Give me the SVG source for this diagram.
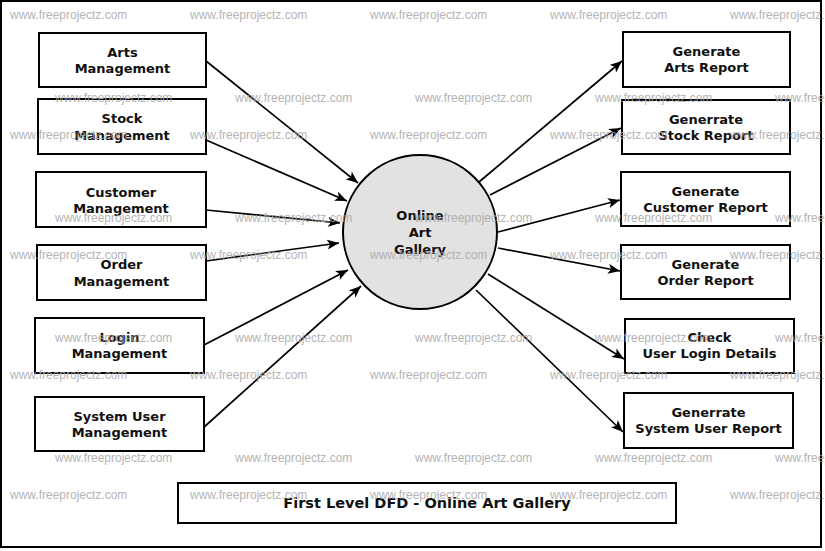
<svg xmlns="http://www.w3.org/2000/svg" width="825" height="551" viewBox="0 0 825 551">
<style>
.box{fill:#fff;stroke:#000;stroke-width:2}
.lbl{font-family:"DejaVu Sans",sans-serif;font-weight:bold;font-size:13px;fill:#111;text-anchor:middle}
.ttl{font-size:14.5px}
.con{stroke:#000;stroke-width:1.7;fill:none;marker-end:url(#arr)}
.wm{font-family:"Liberation Sans",Arial,sans-serif;font-size:12px;fill:#a8a8a8;opacity:0.85}
</style>
<defs>
<marker id="arr" viewBox="0 0 12 10" refX="12" refY="5" markerWidth="12" markerHeight="10" markerUnits="userSpaceOnUse" orient="auto">
<path d="M0,0 L12,5 L0,10 L3,5 Z" fill="#000"/>
</marker>
</defs>
<rect x="0" y="0" width="825" height="551" fill="#fff"/>
<rect x="1" y="1" width="820" height="546" fill="none" stroke="#000" stroke-width="2"/>

<g id="connectors">
<line class="con" x1="206" y1="61" x2="358" y2="183"/>
<line class="con" x1="206" y1="140" x2="347" y2="201"/>
<line class="con" x1="206" y1="210" x2="340" y2="223"/>
<line class="con" x1="206" y1="261" x2="339" y2="243"/>
<line class="con" x1="204" y1="345" x2="348" y2="270"/>
<line class="con" x1="203" y1="428" x2="361" y2="286"/>
<line class="con" x1="479" y1="182" x2="622" y2="61"/>
<line class="con" x1="490" y1="195" x2="621" y2="128"/>
<line class="con" x1="498" y1="232" x2="620" y2="200"/>
<line class="con" x1="498" y1="248" x2="620" y2="271"/>
<line class="con" x1="488" y1="274" x2="624" y2="359"/>
<line class="con" x1="476" y1="290" x2="623" y2="432"/>
</g>

<g id="process">
<circle cx="420" cy="232" r="77" fill="#e2e2e2" stroke="#000" stroke-width="2"/>
<text class="lbl" x="420" y="220">Online</text>
<text class="lbl" x="420" y="237">Art</text>
<text class="lbl" x="420" y="254">Gallery</text>
</g>

<g id="arts-management">
<rect class="box" x="39" y="33" width="167" height="54"/>
<text class="lbl" x="122.5" y="57">Arts</text>
<text class="lbl" x="122.5" y="73">Management</text>
</g>
<g id="stock-management">
<rect class="box" x="38" y="99" width="168" height="55"/>
<text class="lbl" x="122" y="123">Stock</text>
<text class="lbl" x="122" y="140">Management</text>
</g>
<g id="customer-management">
<rect class="box" x="36" y="172" width="170" height="55"/>
<text class="lbl" x="121" y="197">Customer</text>
<text class="lbl" x="121" y="213">Management</text>
</g>
<g id="order-management">
<rect class="box" x="37" y="245" width="169" height="55"/>
<text class="lbl" x="121.5" y="269">Order</text>
<text class="lbl" x="121.5" y="286">Management</text>
</g>
<g id="login-management">
<rect class="box" x="35" y="318" width="169" height="55"/>
<text class="lbl" x="119.5" y="342">Login</text>
<text class="lbl" x="119.5" y="358">Management</text>
</g>
<g id="system-user-management">
<rect class="box" x="35" y="397" width="169" height="54"/>
<text class="lbl" x="119.5" y="421">System User</text>
<text class="lbl" x="119.5" y="437">Management</text>
</g>

<g id="generate-arts-report">
<rect class="box" x="623" y="32" width="167" height="55"/>
<text class="lbl" x="706.5" y="56">Generate</text>
<text class="lbl" x="706.5" y="72">Arts Report</text>
</g>
<g id="generate-stock-report">
<rect class="box" x="622" y="100" width="168" height="54"/>
<text class="lbl" x="706" y="124">Generrate</text>
<text class="lbl" x="706" y="140">Stock Report</text>
</g>
<g id="generate-customer-report">
<rect class="box" x="621" y="172" width="169" height="54"/>
<text class="lbl" x="705.5" y="196">Generate</text>
<text class="lbl" x="705.5" y="212">Customer Report</text>
</g>
<g id="generate-order-report">
<rect class="box" x="621" y="245" width="169" height="54"/>
<text class="lbl" x="705.5" y="269">Generate</text>
<text class="lbl" x="705.5" y="285">Order Report</text>
</g>
<g id="check-user-login-details">
<rect class="box" x="625" y="319" width="169" height="54"/>
<text class="lbl" x="709.5" y="342">Check</text>
<text class="lbl" x="709.5" y="358">User Login Details</text>
</g>
<g id="generate-system-user-report">
<rect class="box" x="624" y="393" width="169" height="55"/>
<text class="lbl" x="708.5" y="417">Generrate</text>
<text class="lbl" x="708.5" y="433">System User Report</text>
</g>

<g id="title">
<rect class="box" x="178" y="483" width="498" height="40"/>
<text class="lbl ttl" x="427" y="508">First Level DFD - Online Art Gallery</text>
</g>

<g id="watermark">
<text class="wm" x="10" y="19">www.freeprojectz.com</text>
<text class="wm" x="190" y="19">www.freeprojectz.com</text>
<text class="wm" x="370" y="19">www.freeprojectz.com</text>
<text class="wm" x="550" y="19">www.freeprojectz.com</text>
<text class="wm" x="730" y="19">www.freeprojectz.com</text>
<text class="wm" x="55" y="102">www.freeprojectz.com</text>
<text class="wm" x="235" y="102">www.freeprojectz.com</text>
<text class="wm" x="415" y="102">www.freeprojectz.com</text>
<text class="wm" x="595" y="102">www.freeprojectz.com</text>
<text class="wm" x="775" y="102">www.freeprojectz.com</text>
<text class="wm" x="10" y="139">www.freeprojectz.com</text>
<text class="wm" x="190" y="139">www.freeprojectz.com</text>
<text class="wm" x="370" y="139">www.freeprojectz.com</text>
<text class="wm" x="550" y="139">www.freeprojectz.com</text>
<text class="wm" x="730" y="139">www.freeprojectz.com</text>
<text class="wm" x="55" y="222">www.freeprojectz.com</text>
<text class="wm" x="235" y="222">www.freeprojectz.com</text>
<text class="wm" x="415" y="222">www.freeprojectz.com</text>
<text class="wm" x="595" y="222">www.freeprojectz.com</text>
<text class="wm" x="775" y="222">www.freeprojectz.com</text>
<text class="wm" x="10" y="259">www.freeprojectz.com</text>
<text class="wm" x="190" y="259">www.freeprojectz.com</text>
<text class="wm" x="370" y="259">www.freeprojectz.com</text>
<text class="wm" x="550" y="259">www.freeprojectz.com</text>
<text class="wm" x="730" y="259">www.freeprojectz.com</text>
<text class="wm" x="55" y="342">www.freeprojectz.com</text>
<text class="wm" x="235" y="342">www.freeprojectz.com</text>
<text class="wm" x="415" y="342">www.freeprojectz.com</text>
<text class="wm" x="595" y="342">www.freeprojectz.com</text>
<text class="wm" x="775" y="342">www.freeprojectz.com</text>
<text class="wm" x="10" y="379">www.freeprojectz.com</text>
<text class="wm" x="190" y="379">www.freeprojectz.com</text>
<text class="wm" x="370" y="379">www.freeprojectz.com</text>
<text class="wm" x="550" y="379">www.freeprojectz.com</text>
<text class="wm" x="730" y="379">www.freeprojectz.com</text>
<text class="wm" x="55" y="462">www.freeprojectz.com</text>
<text class="wm" x="235" y="462">www.freeprojectz.com</text>
<text class="wm" x="415" y="462">www.freeprojectz.com</text>
<text class="wm" x="595" y="462">www.freeprojectz.com</text>
<text class="wm" x="775" y="462">www.freeprojectz.com</text>
<text class="wm" x="10" y="499">www.freeprojectz.com</text>
<text class="wm" x="190" y="499">www.freeprojectz.com</text>
<text class="wm" x="370" y="499">www.freeprojectz.com</text>
<text class="wm" x="550" y="499">www.freeprojectz.com</text>
<text class="wm" x="730" y="499">www.freeprojectz.com</text>
</g>
</svg>
